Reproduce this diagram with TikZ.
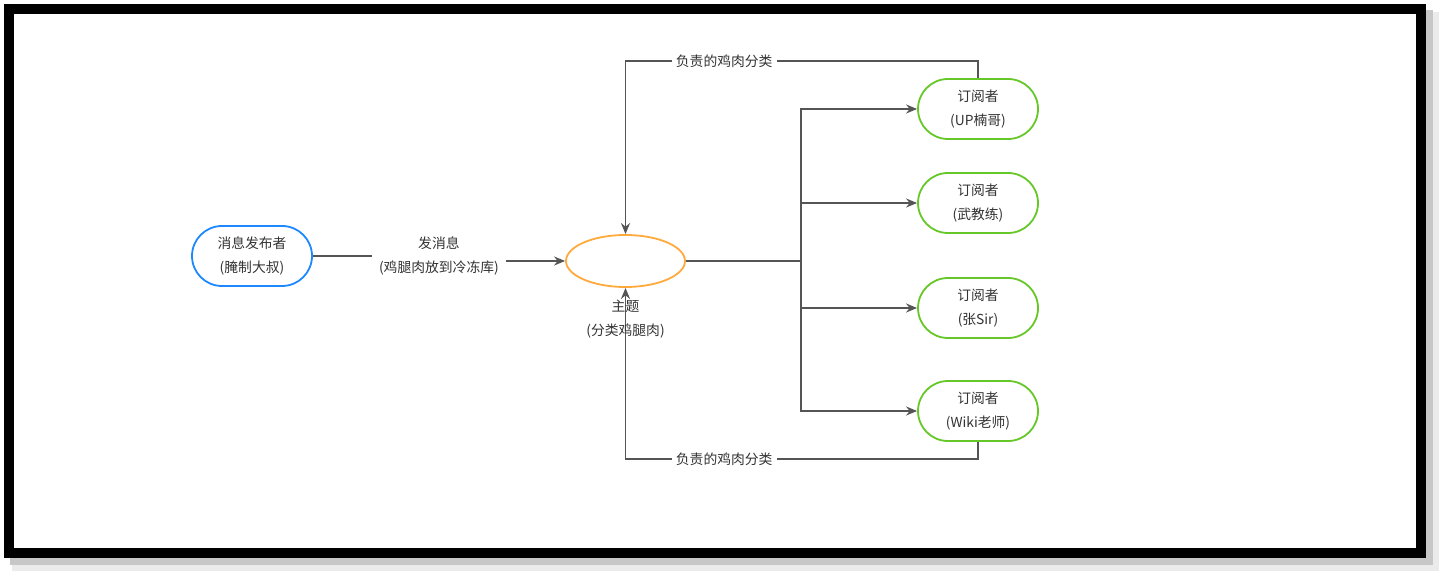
\documentclass[tikz,border=0pt]{standalone}
\usepackage{fontspec}
\setmainfont{Noto Sans CJK SC}
\usepackage{xcolor}
\usetikzlibrary{positioning, arrows.meta, shapes.geometric}

\definecolor{pubblue}{RGB}{30,136,255}
\definecolor{topicorange}{RGB}{255,170,60}
\definecolor{subgreen}{RGB}{102,200,40}
\definecolor{linegray}{RGB}{85,85,85}
\definecolor{textgray}{RGB}{51,51,51}

\begin{document}
\begin{tikzpicture}[
    x=1pt, y=-1pt,
    >={Stealth[length=11pt, width=9pt]},
    every node/.style={font=\fontsize{13.8}{24}\selectfont, text=textgray, align=center},
    pubbox/.style={rectangle, draw=pubblue, line width=1.8pt, rounded corners=30pt, minimum width=120pt, minimum height=60pt},
    subbox/.style={pubbox, draw=subgreen},
    topicnode/.style={ellipse, draw=topicorange, line width=1.8pt, minimum width=119pt, minimum height=52pt, inner sep=0pt},
    edgelabel/.style={fill=white, inner sep=7pt},
    link/.style={draw=linegray, line width=1.8pt},
]
\useasboundingbox (0,0) rectangle (1445,577);

% Frame with shadow
\fill[black!8] (12,12) rectangle (1439,571);
\fill[black!22] (10,10) rectangle (1433,565);
\fill[white] (14,14) rectangle (1416,548);
\draw[line width=10pt] (9,9) rectangle (1421,553);

% Publisher and topic
\node[pubbox] (pub) at (252,256) {消息发布者\\(腌制大叔)};
\node[topicnode] (topic) at (625.5,261) {};

% Subscribers
\foreach \name/\y/\who in {sub1/109/{(UP楠哥)}, sub2/203/{(武教练)}, sub3/308/{(张Sir)}, sub4/411/{(Wiki老师)}} {
    \node[subbox] (\name) at (978,\y) {订阅者\\\who};
}

% Publish message
\draw[link, ->] (pub.east) -- ++(126,0) node[edgelabel] (msg) {发消息\\(鸡腿肉放到冷冻库)} |- (topic.west);

% Topic to subscribers
\foreach \name in {sub1, sub2, sub3, sub4} {
    \draw[link, ->] (topic.east) -- ++(115,0) |- (\name.west);
}

% Feedback loops
\draw[link, ->] (sub1.north) -- ++(0,-17) -| (topic.north) node[edgelabel, inner sep=4pt, pos=0.36] (fbtop) {负责的鸡肉分类};
\draw[link, ->] (sub4.south) -- ++(0,17) -| (topic.south) node[edgelabel, inner sep=4pt, pos=0.36] (fbbot) {负责的鸡肉分类};

% Topic label
\node (topiclbl) at (625.5,319) {主题\\(分类鸡腿肉)};

\end{tikzpicture}
\end{document}
